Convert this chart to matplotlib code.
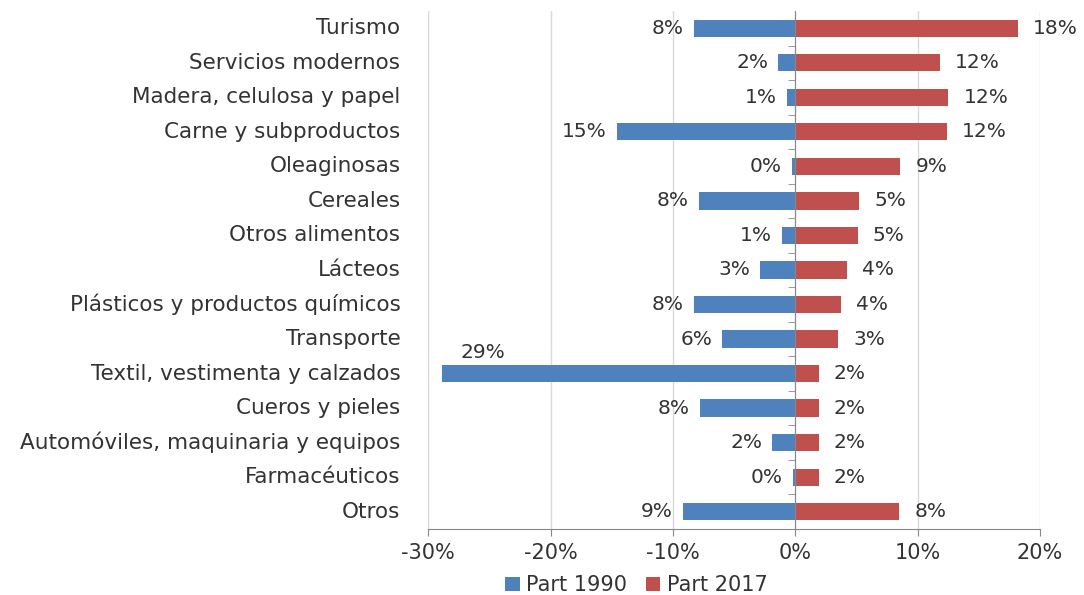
import matplotlib.pyplot as plt
from matplotlib.ticker import FuncFormatter, FixedLocator

categories = ['Turismo', 'Servicios modernos', 'Madera, celulosa y papel',
              'Carne y subproductos', 'Oleaginosas', 'Cereales', 'Otros alimentos',
              'Lácteos', 'Plásticos y productos químicos', 'Transporte',
              'Textil, vestimenta y calzados', 'Cueros y pieles',
              'Automóviles, maquinaria y equipos', 'Farmacéuticos', 'Otros']

# share in 1990 (drawn to the left as negative) and in 2017, in %
part_1990 = [8.3, 1.4, 0.7, 14.6, 0.3, 7.9, 1.1, 2.9, 8.3, 6.0, 28.9, 7.8, 1.9, 0.2, 9.2]
part_2017 = [18.2, 11.8, 12.5, 12.4, 8.6, 5.2, 5.1, 4.2, 3.7, 3.5, 1.9, 1.9, 1.9, 1.9, 8.5]

labels_1990 = ['8%', '2%', '1%', '15%', '0%', '8%', '1%', '3%', '8%', '6%',
               '29%', '8%', '2%', '0%', '9%']
labels_2017 = ['18%', '12%', '12%', '12%', '9%', '5%', '5%', '4%', '4%', '3%',
               '2%', '2%', '2%', '2%', '8%']

blue = '#4F81BD'
red = '#C0504D'
txt = '#333333'

plt.rcParams['font.family'] = ['DejaVu Sans']
plt.rcParams['font.size'] = 14.5

fig = plt.figure(figsize=(10.84, 5.95), dpi=100)
ax = fig.add_axes([0.395, 0.111, 0.5644, 0.8705])

pos = range(len(categories))
neg_1990 = [-v for v in part_1990]
b1 = ax.barh(pos, neg_1990, height=0.5, color=blue, label='Part 1990', zorder=3)
b2 = ax.barh(pos, part_2017, height=0.5, color=red, label='Part 2017', zorder=3)

ax.set_xlim(-30, 20)
ax.set_ylim(len(categories) - 0.5, -0.5)
ax.set_xticks([-30, -20, -10, 0, 10, 20])
ax.xaxis.set_major_formatter(FuncFormatter(lambda v, p: f'{v:.0f}%'))
ax.grid(axis='x', color='#d9d9d9', linewidth=1, zorder=0)
ax.tick_params(axis='x', length=5, color='#888888', labelcolor=txt, pad=5, labelsize=15)

# y axis line sits at 0, with ticks between categories
for s in ['top', 'right']:
    ax.spines[s].set_visible(False)
ax.spines['bottom'].set_color('#888888')
ax.spines['left'].set_position(('data', 0))
ax.spines['left'].set_color('#888888')
ax.spines['left'].set_zorder(4)
ax.yaxis.set_major_locator(FixedLocator([]))
ax.yaxis.set_minor_locator(FixedLocator([i + 0.5 for i in range(len(categories) - 1)]))
ax.tick_params(axis='y', which='minor', length=5, color='#888888', direction='out')

# category names at the left edge of the plot area
for i, name in enumerate(categories):
    ax.annotate(name, xy=(0, i), xycoords=('axes fraction', 'data'),
                xytext=(-20, 0), textcoords='offset points',
                ha='right', va='center', color=txt, fontsize=15.5)

# value labels
for i in pos:
    if labels_1990[i] == '29%':
        ax.annotate(labels_1990[i], xy=(neg_1990[i], i), xytext=(30, 15),
                    textcoords='offset points', ha='center', va='center', color=txt)
    else:
        ax.annotate(labels_1990[i], xy=(neg_1990[i], i), xytext=(-7, 0),
                    textcoords='offset points', ha='right', va='center', color=txt)
    ax.annotate(labels_2017[i], xy=(part_2017[i], i), xytext=(11, 0),
                textcoords='offset points', ha='left', va='center', color=txt)

fig.legend(handles=[b1, b2], loc='lower center', bbox_to_anchor=(0.587, -0.032),
           ncol=2, frameon=False, fontsize=15, handlelength=0.7, handleheight=0.7,
           handletextpad=0.3, columnspacing=0.9, labelcolor=txt)

fig.savefig('out.png', dpi=100)
